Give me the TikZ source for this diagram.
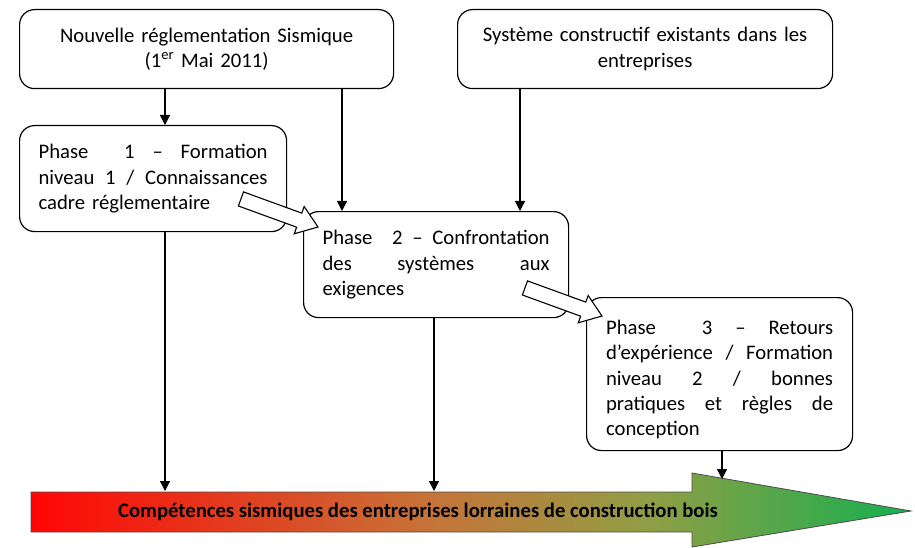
\documentclass[tikz,border=0pt]{standalone}
\usepackage{fontspec}
\setmainfont{Carlito}
\usetikzlibrary{arrows.meta,calc}
\pgfdeclarehorizontalshading{redgreen}{100bp}{rgb(0bp)=(1,0.02,0.02); rgb(25bp)=(1,0.02,0.02); rgb(47.5bp)=(0.78,0.45,0.22); rgb(60bp)=(0.57,0.62,0.27); rgb(75bp)=(0.08,0.69,0.31); rgb(100bp)=(0.08,0.69,0.31)}
\newcommand\blkarrow[2]{%
  \draw[blk] (#1) -- ($(#1)+({#2+180}:20)+({#2+90}:14.5)$)
    -- ($(#1)+({#2+180}:20)+({#2+90}:7.5)$)
    -- ($(#1)+({#2+180}:82)+({#2+90}:7.5)$)
    -- ($(#1)+({#2+180}:82)+({#2-90}:7.5)$)
    -- ($(#1)+({#2+180}:20)+({#2-90}:7.5)$)
    -- ($(#1)+({#2+180}:20)+({#2-90}:14.5)$) -- cycle;}
\newcommand\jl[1]{{\spaceskip=0pt\xspaceskip=0pt\makebox[\hsize][s]{#1}}}
\begin{document}
\begin{tikzpicture}[x=1pt,y=-1pt,
  font=\fontsize{20.7}{25.3}\selectfont,
  box/.style={draw, line width=1.2pt, rounded corners=15pt, inner sep=0pt, anchor=north west},
  conn/.style={line width=1.2pt, -{Triangle[length=10pt,width=10pt]}},
  blk/.style={draw, fill=white, line width=1.1pt, line join=miter}]
\useasboundingbox (0,0) rectangle (915,548);
% boxes
\node[box, minimum width=374pt, minimum height=79pt, text width=350pt, align=center] (A) at (19,9)
  {Nouvelle réglementation Sismique\\(1\textsuperscript{er} Mai 2011)};
\node[box, minimum width=375pt, minimum height=79pt, text width=350pt, align=center] (B) at (457,9)
  {Système constructif existants dans les\\entreprises};
\node[box, minimum width=267pt, minimum height=106pt, text width=229pt, align=left] (P1) at (19,125)
  {\jl{Phase\ \ 1 – Formation}\\\jl{niveau 1 / Connaissances}\\cadre réglementaire};
\node[box, minimum width=265pt, minimum height=106pt, text width=227pt, align=left] (P2) at (303,211)
  {\jl{Phase\ \ 2 – Confrontation}\\\jl{des systèmes aux}\\exigences};
\node[box, minimum width=266pt, minimum height=153pt, text width=227pt, align=left] (P3) at (586,297)
  {\rule{0pt}{25.5pt}\jl{Phase\ \ 3 – Retours}\\\jl{d’expérience / Formation}\\\jl{niveau 2 / bonnes}\\\jl{pratiques et règles de}\\conception};
% bottom arrow
\path[draw=black!70, line width=0.8pt, shading=redgreen]
  (31,492) -- (692,492) -- (692,473) -- (911,511) -- (692,547) -- (692,532) -- (31,532) -- cycle;
\node[font=\fontsize{20.7}{25.3}\selectfont\bfseries] (comp) at (418,512)
  {Compétences sismiques des entreprises lorraines de construction bois};
% connectors
\coordinate (x1) at (165,0);
\coordinate (x2) at (342,0);
\coordinate (x3) at (520,0);
\coordinate (x4) at (434,0);
\coordinate (x5) at (722,0);
\coordinate (e1) at (165,491);
\coordinate (e2) at (434,491);
\coordinate (e3) at (722,479);
\draw[conn] (A.south -| x1) -- (P1.north -| x1);
\draw[conn] (A.south -| x2) -- (P2.north -| x2);
\draw[conn] (B.south -| x3) -- (P2.north -| x3);
\draw[conn] (P1.south -| x1) -- (e1);
\draw[conn] (P2.south -| x4) -- (e2);
\draw[conn] (P3.south -| x5) -- (e3);
% block arrows
\coordinate (t1) at (318,227);
\coordinate (t2) at (602,316);
\blkarrow{t1}{20}
\blkarrow{t2}{20}
\end{tikzpicture}
\end{document}
